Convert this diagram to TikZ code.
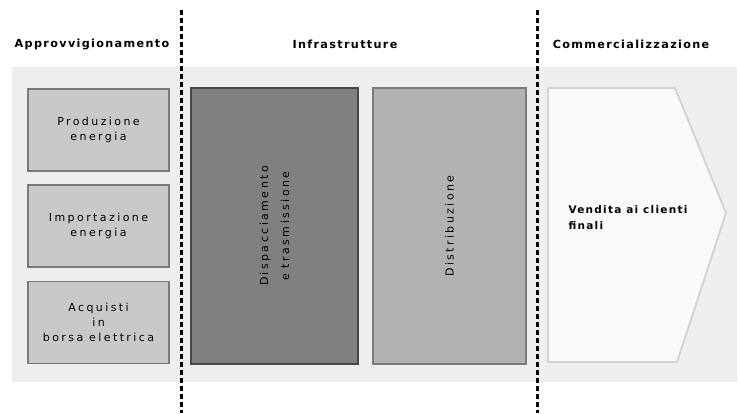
\documentclass[tikz,border=0pt]{standalone}
\usepackage{fontspec}
\setmainfont{DejaVu Sans}
\newfontfamily\headface[LetterSpace=12]{DejaVu Sans}
\newfontfamily\boxface[LetterSpace=22]{DejaVu Sans}
\definecolor{panelgray}{HTML}{EEEEEE}
\definecolor{supplyfill}{HTML}{C8C8C8}
\definecolor{supplyline}{HTML}{7A7A7A}
\definecolor{gridfill}{HTML}{808080}
\definecolor{gridline}{HTML}{484848}
\definecolor{distfill}{HTML}{B2B2B2}
\definecolor{salesfill}{HTML}{F9F9F9}
\definecolor{salesline}{HTML}{D2D2D2}
\tikzset{
  phasehead/.style = {font=\headface\bfseries\fontsize{11.2}{12}\selectfont},
  phasecut/.style  = {line width=3pt,dash pattern=on 4.5pt off 3.5pt},
  supplybox/.style = {draw=supplyline,fill=supplyfill,line width=1.8pt,
                      minimum width=141pt,minimum height=82pt,align=center,
                      font=\boxface\fontsize{11}{15}\selectfont},
  infrabox/.style  = {line width=1.8pt,minimum height=276pt,align=center},
  sidetext/.style  = {rotate=90,align=center,font=\boxface\fontsize{11}{21}\selectfont},
  salesarrow/.style = {draw=salesline,fill=salesfill,line width=1.8pt,line join=round}
}

\begin{document}
\begin{tikzpicture}[x=1pt,y=-1pt]
  \useasboundingbox (0,0) rectangle (740,413);
  % grey band behind the value chain
  \fill[panelgray] (12,67) rectangle (737,382);
  % phase boundaries
  \coordinate (cutAtop) at (181,10);
  \coordinate (cutAbot) at (181,413);
  \coordinate (cutBtop) at (537,10);
  \coordinate (cutBbot) at (537,413);
  \draw[phasecut] (cutAtop) -- (cutAbot);
  \draw[phasecut] (cutBtop) -- (cutBbot);
  % phase headings
  \node[phasehead] (hsupply) at (92,44)    {Approvvigionamento};
  \node[phasehead] (hinfra)  at (345,44)   {Infrastrutture};
  \node[phasehead] (hsales)  at (631,44)   {Commercializzazione};
  % supply side
  \node[supplybox] (prod)   at (98.5,130)   {Produzione\\energia};
  \node[supplybox] (import) at (98.5,226)   {Importazione\\energia};
  \node[supplybox] (market) at (98.5,322.5) {Acquisti\\in\\borsa elettrica};
  % networks
  \node[infrabox,draw=gridline,fill=gridfill,minimum width=167pt] (dispatch) at (274.5,226) {};
  \node[sidetext] (dispatchtxt) at (dispatch.center) {Dispacciamento\\e trasmissione};
  \node[infrabox,draw=supplyline,fill=distfill,minimum width=153pt] (distrib) at (449.5,226) {};
  \node[sidetext] (distribtxt) at (distrib.center) {Distribuzione};
  % sales
  \coordinate (salesNW) at (548,88);
  \coordinate (salesNE) at (675,88);
  \coordinate (salesTip) at (726,213);
  \coordinate (salesSE) at (677,362);
  \coordinate (salesSW) at (548,362);
  \draw[salesarrow] (salesNW) -- (salesNE) -- (salesTip) -- (salesSE) -- (salesSW) -- cycle;
  \node[anchor=west,align=left,font=\headface\bfseries\fontsize{10.5}{16}\selectfont] (salestxt) at (565,218) {Vendita ai clienti\\finali};
\end{tikzpicture}
\end{document}
